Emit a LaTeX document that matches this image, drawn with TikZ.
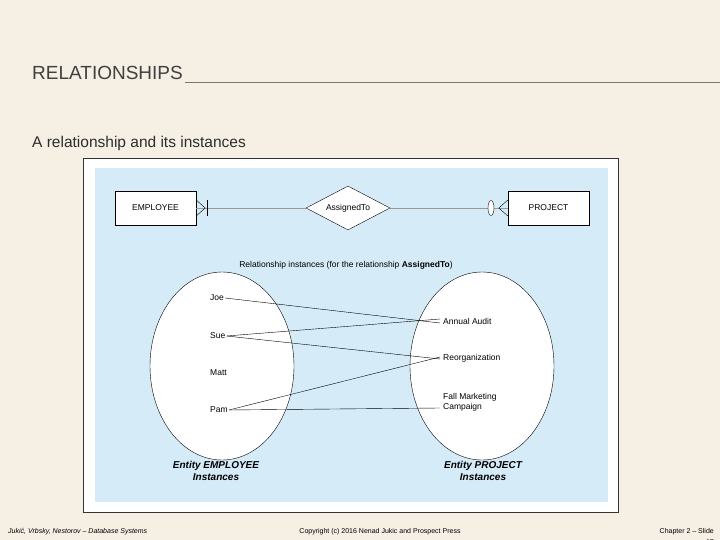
\documentclass[tikz,border=0pt]{standalone}
\usepackage{fontspec}
\setmainfont{Liberation Sans}
\usetikzlibrary{shapes.geometric}
\definecolor{bg}{HTML}{F5EFE4}
\definecolor{sky}{HTML}{D5ECF8}
\definecolor{ttl}{HTML}{404040}
\begin{document}
\begin{tikzpicture}[x=1pt,y=-1pt,
  ent/.style={draw,fill=white,minimum width=81pt,minimum height=34pt,inner sep=0pt,font=\fontsize{8.5}{10}\selectfont},
  lbl/.style={inner sep=1pt,font=\fontsize{8.5}{10}\selectfont},
  captxt/.style={font=\bfseries\itshape\fontsize{10}{12}\selectfont,align=center},
  foot/.style={font=\fontsize{7}{8}\selectfont,inner sep=0pt}]
\fill[bg] (0,0) rectangle (720,540);
\useasboundingbox (0,0) rectangle (720,540);
\node[anchor=base west,inner sep=0pt,text=ttl,font=\fontsize{19}{22}\selectfont] (title) at (32,80) {RELATIONSHIPS};
\draw[ttl!70,line width=0.6pt] (title.base east) ++(2,2) coordinate (ul) -- (720,82);
\node[anchor=base west,inner sep=0pt,text=ttl!70!black,font=\fontsize{15.5}{18}\selectfont] (sub) at (32,148) {A relationship and its instances};
\draw[black!80,fill=white] (83,158) rectangle (618,512);
\fill[sky] (95,168) rectangle (608,502);
\node[ent] (emp) at (155.5,208) {EMPLOYEE};
\node[ent] (proj) at (548.5,208) {PROJECT};
\node[diamond,draw,fill=white,aspect=1.9,inner sep=1pt,minimum width=84pt,minimum height=44pt,font=\fontsize{8.5}{10}\selectfont] (rel) at (348,208) {AssignedTo};
\draw[black!40] (emp.east) -- (rel.west);
\draw[black!40] (rel.east) -- (proj.west);
\draw (emp.east)++(0,-8) coordinate (e1) -- ++(9,8) coordinate (e2) -- ++(-9,8);
\draw (207,200) coordinate (b1) -- (207,216) coordinate (b2);
\draw (proj.west)++(0,-8) -- ++(-9,8) -- ++(9,8);
\node[draw,ellipse,fill=white,minimum width=6pt,minimum height=15pt,inner sep=0pt] (ov) at (491,208) {};
\node[lbl] (ritxt) at (346,265) {Relationship instances (for the relationship \textbf{AssignedTo})};
\node[draw,ellipse,fill=white,minimum width=144pt,minimum height=188pt] (le) at (222,366) {};
\node[draw,ellipse,fill=white,minimum width=144pt,minimum height=188pt] (re) at (482,366) {};
\node[lbl,anchor=west] (joe) at (209,298) {Joe};
\node[lbl,anchor=west] (sue) at (209,336) {Sue};
\node[lbl,anchor=west] (matt) at (209,373) {Matt};
\node[lbl,anchor=west] (pam) at (209,410) {Pam};
\node[lbl,anchor=west,inner xsep=3pt] (aa) at (440,321) {Annual Audit};
\node[lbl,anchor=west,inner xsep=3pt] (ro) at (440,358) {Reorganization};
\node[lbl,anchor=west,align=left,inner xsep=3pt] (fm) at (440,402) {Fall Marketing\\Campaign};
\draw (joe.east) -- ([yshift=-2pt]aa.west);
\draw (sue.east) -- ([yshift=2pt]aa.west);
\draw (sue.east) -- ([yshift=-1pt]ro.west);
\draw (pam.east) -- ([yshift=1pt]ro.west);
\draw (pam.east) -- ([yshift=-6pt]fm.west);
\node[captxt] (lc) at (216,471) {Entity EMPLOYEE\\Instances};
\node[captxt] (rc) at (483,471) {Entity PROJECT\\Instances};
\node[foot,anchor=base west,font=\itshape\fontsize{7}{8}\selectfont] (f1) at (8,533) {Jukić, Vrbsky, Nestorov -- Database Systems};
\node[foot,anchor=base] (f2) at (380,533) {Copyright (c) 2016 Nenad Jukic and Prospect Press};
\node[foot,anchor=base east] (f3) at (714,533) {Chapter 2 -- Slide};
\node[foot,anchor=base east] (f4) at (714,544) {17};
\end{tikzpicture}
\end{document}
